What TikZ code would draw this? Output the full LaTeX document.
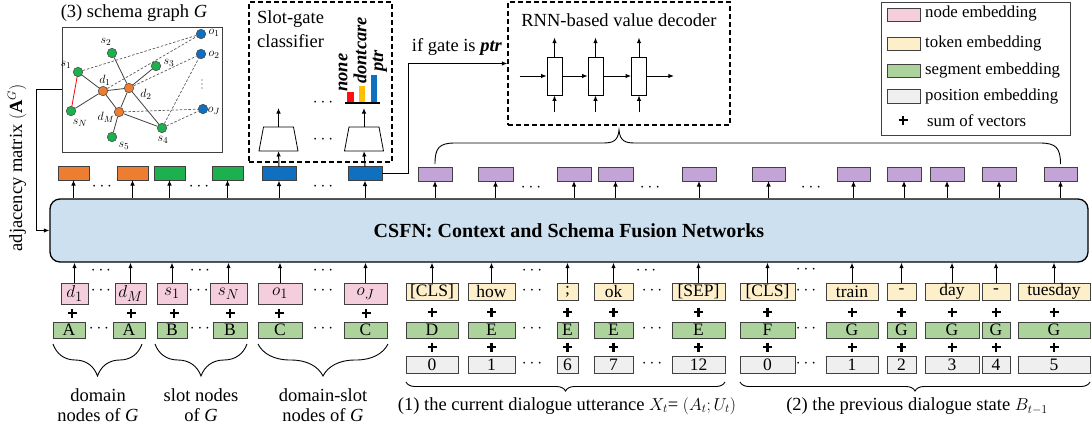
\documentclass[tikz,border=0pt]{standalone}
\usepackage{fontspec}
\setmainfont{Liberation Serif}
\usetikzlibrary{arrows.meta,shapes.geometric,decorations.pathreplacing,calc}
\definecolor{pinkc}{HTML}{F4CEDC}
\definecolor{yelc}{HTML}{FEEFCB}
\definecolor{grnc}{HTML}{ABD39B}
\definecolor{grayc}{HTML}{EFEFEF}
\definecolor{orc}{HTML}{ED7D31}
\definecolor{gtop}{HTML}{1DB04E}
\definecolor{btop}{HTML}{1070C0}
\definecolor{purc}{HTML}{C2A4D6}
\definecolor{csfnc}{HTML}{CCE0F0}
\definecolor{edgec}{HTML}{404040}
\definecolor{barred}{HTML}{FF1010}
\definecolor{baryel}{HTML}{FFC000}
\newcommand\mkbox[7]{\node[#2, minimum width={(#4)-(#3)}, minimum height={(#6)-(#5)}] (#1) at ({((#3)+(#4))/2},{((#5)+(#6))/2}) {#7};}
\newcommand\dts[3]{\node[inner sep=0pt] (#1) at (#2,#3) {$\cdots$};}
\newcommand\plusat[2]{\draw[plusst] ({#1-4.5},#2) -- ({#1+4.5},#2) (#1,{#2-4.5}) -- (#1,{#2+4.5});}
\newcommand\trap[2]{\draw[line width=0.8pt, fill=white] ({#2-19.5},151) -- ({#2+19.5},151) -- ({#2+15},127) -- ({#2-15},127) -- cycle;
  \coordinate (#1b) at (#2,151); \coordinate (#1t) at (#2,127);}
\begin{document}
\begin{tikzpicture}[x=1pt,y=-1pt,
  every node/.style={font=\fontsize{17.5}{20}\selectfont},
  bx/.style={draw=edgec, line width=0.8pt, inner sep=0pt, outer sep=0pt},
  pk/.style={bx, fill=pinkc, font=\fontsize{19}{20}\selectfont},
  yl/.style={bx, fill=yelc},
  gn/.style={bx, fill=grnc},
  gy/.style={bx, fill=grayc},
  otop/.style={bx, fill=orc},
  gtopb/.style={bx, fill=gtop},
  btopb/.style={bx, fill=btop},
  ptop/.style={bx, fill=purc},
  arr/.style={-{Latex[length=5.5pt,width=4.5pt]}, line width=1pt, black},
  plusst/.style={line width=2.2pt, black},
  gnode/.style={circle, draw=edgec, line width=0.5pt, minimum size=9.5pt, inner sep=0pt},
  gedge/.style={draw=black!75, line width=0.8pt},
  gdash/.style={draw=black!65, line width=0.7pt, dash pattern=on 2.5pt off 1.8pt},
  dbox/.style={draw, line width=1.3pt, dash pattern=on 5pt off 3pt, inner sep=0pt},
  brc/.style={decorate, decoration={brace, mirror, amplitude=#1}, line width=0.9pt},
  glab/.style={font=\fontsize{12.5}{14}\selectfont, inner sep=0pt},
  big/.style={font=\fontsize{18.5}{20}\selectfont},
  leg/.style={font=\fontsize{16.8}{19}\selectfont, anchor=west, inner sep=0pt},
  barlab/.style={rotate=90, anchor=west, inner sep=0pt, font=\bfseries\itshape\fontsize{18.5}{20}\selectfont}
]
\useasboundingbox (0,0) rectangle (1092,432);

% ---------- CSFN ----------
\node[draw=black, line width=1.3pt, rounded corners=10pt, fill=csfnc, minimum width=1038, minimum height=63, inner sep=0pt,
      font=\bfseries\fontsize{20}{24}\selectfont] (csfn) at (569,230.5) {CSFN: Context and Schema Fusion Networks};

% ---------- top output row ----------
\mkbox{ot1}{otop}{58}{89}{166.5}{180}{}
\mkbox{ot2}{otop}{117}{148}{166.5}{180}{}
\mkbox{gt1}{gtopb}{154}{185}{166.5}{180}{}
\mkbox{gt2}{gtopb}{212}{243}{166.5}{180}{}
\mkbox{bt1}{btopb}{262}{296}{166.5}{180.5}{}
\mkbox{bt2}{btopb}{348}{382}{166.5}{180.5}{}
\mkbox{p1}{ptop}{418}{452}{167}{181}{}
\mkbox{p2}{ptop}{478}{513}{167}{181}{}
\mkbox{p3}{ptop}{557}{591}{167}{181}{}
\mkbox{p4}{ptop}{598}{633}{167}{181}{}
\mkbox{p5}{ptop}{682}{716}{167}{181}{}
\mkbox{p6}{ptop}{752}{785}{167}{181}{}
\mkbox{p7}{ptop}{837}{870}{167}{181}{}
\mkbox{p8}{ptop}{887}{921}{167}{181}{}
\mkbox{p9}{ptop}{930}{964}{167}{181}{}
\mkbox{p10}{ptop}{982}{1016}{167}{181}{}
\mkbox{p11}{ptop}{1044}{1077}{167}{181}{}
\foreach \n in {ot1,ot2,gt1,gt2,bt1,bt2,p1,p2,p3,p4,p5,p6,p7,p8,p9,p10,p11}{
  \draw[arr] (\n.south |- csfn.north) -- (\n.south);
}
\dts{td1}{102}{187}\dts{td2}{199}{187}\dts{td3}{323}{187}
\dts{td4}{531}{188}\dts{td5}{650}{188}\dts{td6}{811}{188}

% ---------- bottom inputs: left (graph nodes) ----------
\mkbox{pd1}{pk}{61}{88}{283}{304}{$d_1$}
\mkbox{pdM}{pk}{115}{146}{283}{304}{$d_M$}
\mkbox{ps1}{pk}{157}{187}{283}{304}{$s_1$}
\mkbox{psN}{pk}{210}{247}{283}{304}{$s_N$}
\mkbox{po1}{pk}{258}{302}{283}{304}{$o_1$}
\mkbox{poJ}{pk}{344}{387}{283}{304}{$o_J$}
\mkbox{ga1}{gn}{53}{85}{322}{338}{A}
\mkbox{ga2}{gn}{113}{145}{322}{338}{A}
\mkbox{gb1}{gn}{157}{187}{322}{338}{B}
\mkbox{gb2}{gn}{213}{247}{322}{338}{B}
\mkbox{gc1}{gn}{258}{302}{322}{338}{C}
\mkbox{gc2}{gn}{344}{387}{322}{338}{C}

% ---------- bottom inputs: middle (utterance) ----------
\mkbox{y1}{yl}{406}{458}{283}{300}{[CLS]}
\mkbox{y2}{yl}{468}{515}{283}{300}{how}
\mkbox{y3}{yl}{557}{578}{283}{300}{;}
\mkbox{y4}{yl}{594}{633}{283}{300}{ok}
\mkbox{y5}{yl}{672}{725}{283}{300}{[SEP]}
\mkbox{gd}{gn}{406}{458}{322}{338}{D}
\mkbox{ge1}{gn}{468}{515}{322}{338}{E}
\mkbox{ge2}{gn}{557}{578}{322}{338}{E}
\mkbox{ge3}{gn}{594}{633}{322}{338}{E}
\mkbox{ge4}{gn}{672}{725}{322}{338}{E}
\mkbox{w1}{gy}{406}{458}{356}{373}{0}
\mkbox{w2}{gy}{468}{515}{356}{373}{1}
\mkbox{w3}{gy}{557}{578}{356}{373}{6}
\mkbox{w4}{gy}{594}{633}{356}{373}{7}
\mkbox{w5}{gy}{672}{725}{356}{373}{12}

% ---------- bottom inputs: right (previous state) ----------
\mkbox{y6}{yl}{740}{795}{283}{300}{[CLS]}
\mkbox{y7}{yl}{826}{878}{283}{300}{train}
\mkbox{y8}{yl}{887}{916}{283}{300}{-}
\mkbox{y9}{yl}{925}{979}{283}{300}{day}
\mkbox{y10}{yl}{982}{1010}{283}{300}{-}
\mkbox{y11}{yl}{1018}{1090}{283}{300}{tuesday}
\mkbox{gf}{gn}{740}{795}{322}{338}{F}
\mkbox{gg1}{gn}{826}{878}{322}{338}{G}
\mkbox{gg2}{gn}{887}{916}{322}{338}{G}
\mkbox{gg3}{gn}{925}{979}{322}{338}{G}
\mkbox{gg4}{gn}{982}{1010}{322}{338}{G}
\mkbox{gg5}{gn}{1018}{1090}{322}{338}{G}
\mkbox{w6}{gy}{740}{795}{356}{373}{0}
\mkbox{w7}{gy}{826}{878}{356}{373}{1}
\mkbox{w8}{gy}{887}{916}{356}{373}{2}
\mkbox{w9}{gy}{925}{979}{356}{373}{3}
\mkbox{w10}{gy}{982}{1010}{356}{373}{4}
\mkbox{w11}{gy}{1018}{1090}{356}{373}{5}

\foreach \n in {pd1,pdM,ps1,psN,po1,poJ,y1,y2,y3,y4,y5,y6,y7,y8,y9,y10,y11}{
  \draw[arr] (\n.north) -- (\n.north |- csfn.south);
}

% plus signs
\foreach \x in {72,131,174,230,279,366}{\plusat{\x}{313}}
\foreach \x in {432,491.5,567.5,613.5,698.5,767.5,852,901.5,952,996,1054}{\plusat{\x}{312}\plusat{\x}{347}}

% dots
\dts{bd1}{101}{271}\dts{bd2}{200}{271}\dts{bd3}{323}{271}\dts{bd4}{532}{271}\dts{bd5}{646}{271}\dts{bd6}{806}{270}
\dts{rd1}{101}{291}\dts{rd2}{198.5}{291}\dts{rd3}{323}{291}\dts{rd4}{532}{291}\dts{rd5}{652}{291}\dts{rd6}{806}{291}
\dts{sd1}{99}{329}\dts{sd2}{200}{329}\dts{sd3}{323}{329}\dts{sd4}{532}{329}\dts{sd5}{652}{329}\dts{sd6}{806}{329}
\dts{qd4}{532}{364}\dts{qd5}{652}{364}\dts{qd6}{806}{364}

% braces and captions
\draw[brc=32pt] (53,344) -- (142,344);
\draw[brc=32pt] (155,344) -- (247,344);
\draw[brc=32pt] (258,344) -- (388,344);
\node[big, align=center] (cap1) at (98,405.5) {domain\\nodes of \textit{G}};
\node[big, align=center] (cap2) at (201,405.5) {slot nodes\\of \textit{G}};
\node[big, align=center] (cap3) at (323,405.5) {domain-slot\\nodes of \textit{G}};
\draw[brc=9pt] (406,382) -- (725,382);
\draw[brc=9pt] (740,382) -- (1090,382);
\node[big] (cap4) at (567,406) {(1) the current dialogue utterance $X_t$= $(A_t;U_t)$};
\node[big] (cap5) at (917,406) {(2) the previous dialogue state $B_{t-1}$};

% ---------- schema graph ----------
\node[big] (sgtitle) at (134,13) {(3) schema graph \textit{G}};
\node[draw=edgec, line width=1pt, minimum width=160, minimum height=125, inner sep=0pt] (sgbox) at (142,89.5) {};
\node[gnode, fill=gtop] (gs1) at (78,72) {};
\node[gnode, fill=gtop] (gs2) at (112,53) {};
\node[gnode, fill=gtop] (gs3) at (156,66) {};
\node[gnode, fill=gtop] (gsN) at (71,111) {};
\node[gnode, fill=gtop] (gs4) at (162,128) {};
\node[gnode, fill=gtop] (gs5) at (112,137) {};
\node[gnode, fill=orc] (gd1) at (103,91) {};
\node[gnode, fill=orc] (gd2) at (129,88) {};
\node[gnode, fill=orc] (gdM) at (119,112) {};
\node[gnode, fill=btop] (go1) at (201,34) {};
\node[gnode, fill=btop] (go2) at (201,54) {};
\node[gnode, fill=btop] (goJ) at (203,109) {};
\draw[gedge] (gs1) -- (gd1);
\draw[gedge] (gsN) -- (gd1);
\draw[gedge] (gd1) -- (gd2);
\draw[gedge] (gd1) -- (gdM);
\draw[gedge] (gd2) -- (gdM);
\draw[gedge] (gd2) -- (gs3);
\draw[gedge] (gs2) -- (gd2);
\draw[gedge] (gd2) -- (gs4);
\draw[gedge] (gdM) -- (gs4);
\draw[gedge] (gdM) -- (gs5);
\draw[red, line width=0.8pt] (gs1) -- (gsN);
\draw[gdash] (gs1) -- (go1);
\draw[gdash] (gd1) -- (go1);
\draw[gdash] (gd2) -- (go2);
\draw[gdash] (gs4) -- (go2);
\draw[gdash] (gdM) -- (goJ);
\draw[gdash] (gs4) -- (goJ);
\node[glab] (ls1) at (66,65) {$s_1$};
\node[glab] (ls2) at (106,42) {$s_2$};
\node[glab] (ls3) at (169,63) {$s_3$};
\node[glab] (lsN) at (80,123) {$s_N$};
\node[glab] (ld1) at (105,80) {$d_1$};
\node[glab] (ld2) at (146,94) {$d_2$};
\node[glab] (ldM) at (106,117) {$d_M$};
\node[glab] (ls4) at (163,140) {$s_4$};
\node[glab] (ls5) at (124,146) {$s_5$};
\node[glab] (lo1) at (214,33) {$o_1$};
\node[glab] (lo2) at (214,55) {$o_2$};
\node[glab] (loJ) at (214,111) {$o_J$};
\foreach \yy in {80,84,88}{\fill[black!80] (202,\yy) circle (0.7pt);}

% adjacency connector
\draw[arr] (sgbox.west) -- ++(-25,0) |- (csfn.west);
\node[big, rotate=90] (adj) at (17,168) {adjacency matrix $(\mathbf{A}^{G})$};

% ---------- slot-gate classifier ----------
\node[dbox, minimum width=143, minimum height=160] (sgc) at (320.5,82) {};
\node[big, align=left, anchor=west, inner sep=0pt, font=\fontsize{18.5}{24}\selectfont] (sgct) at (257,29) {Slot-gate\\classifier};
\trap{tz1}{278.5}
\trap{tz2}{364}
\draw[arr] (bt1.north) -- (tz1b);
\draw[arr] (bt2.north) -- (tz2b);
\draw[arr] (tz1t) -- ++(0,-19);
\draw[arr] (tz2t) -- ++(0,-19);
\dts{cd1}{323}{140}\dts{cd2}{323}{103}
\fill[barred] (347,92) rectangle (354,103);
\fill[baryel] (358.5,86) rectangle (364.5,103);
\fill[btop] (371,75) rectangle (377,103);
\draw[line width=1.3pt] (345,103) -- (380,103);
\node[barlab] (lnone) at (343,92) {none};
\node[barlab] (ldc) at (360,84) {dontcare};
\node[barlab] (lptr) at (380,72) {ptr};

% ---------- RNN decoder ----------
\node[dbox, minimum width=222, minimum height=123] (rnn) at (619,63.5) {};
\node[big] (rnnt) at (619,20) {RNN-based value decoder};
\node[draw=black, line width=0.8pt, minimum width=15, minimum height=38, inner sep=0pt] (c1) at (554.5,76) {};
\node[draw=black, line width=0.8pt, minimum width=15, minimum height=38, inner sep=0pt] (c2) at (595.5,76) {};
\node[draw=black, line width=0.8pt, minimum width=15, minimum height=38, inner sep=0pt] (c3) at (639,76) {};
\foreach \c in {c1,c2,c3} {
  \draw[arr] (\c.north) -- ++(0,-19);
  \draw[arr] ($(\c.south)+(0,17)$) -- (\c.south);
}
\draw[arr] ($(c1.west)+(-27,0)$) -- (c1.west);
\draw[arr] (c1.east) -- (c2.west);
\draw[arr] (c2.east) -- (c3.west);
\draw[arr] (c3.east) -- ++(27,0);

% gate -> decoder
\draw[arr] (bt2.east) -- ++(26,0) |- (rnn.west);
\node[big] (gatet) at (457,47) {if gate is \textbf{\textit{ptr}}};

% big brace from purple outputs to decoder
\coordinate (btip) at (619,130);
\draw[line width=0.9pt] (p1.north |- 0,164) .. controls (435,148) and (439,143) .. (455,143) -- (603,143)
  .. controls (613,143) and (618,141) .. (btip) .. controls (620,141) and (625,143) .. (635,143) -- (1040,143)
  .. controls (1056,143) and (1060.5,148) .. (p11.north |- 0,164);

% ---------- legend ----------
\node[draw=edgec, line width=1pt, minimum width=189, minimum height=133, inner sep=0pt] (legbox) at (975.5,68.5) {};
\mkbox{lp}{pk}{887}{920}{8}{21}{}
\mkbox{ly}{yl}{887}{920}{37}{50}{}
\mkbox{lg}{gn}{887}{920}{64}{77}{}
\mkbox{lw}{gy}{887}{920}{89}{103}{}
\node[leg] (lpt) at (925,13) {node embedding};
\node[leg] (lyt) at (925,43) {token embedding};
\node[leg] (lgt) at (925,70) {segment embedding};
\node[leg] (lwt) at (925,96) {position embedding};
\plusat{903}{120}
\node[leg] (lst) at (927,121) {sum of vectors};
\end{tikzpicture}
\end{document}
